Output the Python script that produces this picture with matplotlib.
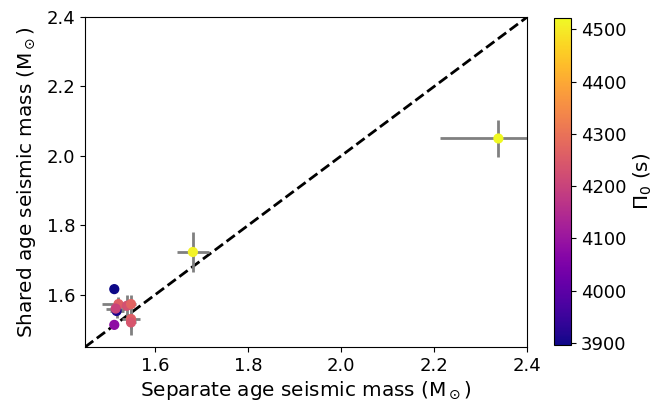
import matplotlib
matplotlib.use("Agg")
import matplotlib.pyplot as plt
import numpy as np

sep_mass = [2.338, 1.681, 1.512, 1.517, 1.512, 1.521, 1.539, 1.548, 1.548, 1.548, 1.515]
shared_mass = [2.050, 1.723, 1.616, 1.553, 1.513, 1.573, 1.568, 1.573, 1.530, 1.520, 1.560]
sep_err = [0.126, 0.035, 0.008, 0.015, 0.008, 0.035, 0.015, 0.010, 0.020, 0.010, 0.020]
shared_err = [0.054, 0.058, 0.012, 0.020, 0.010, 0.020, 0.030, 0.025, 0.030, 0.035, 0.010]
pi0 = [4521, 4510, 3896, 3910, 4080, 4260, 4230, 4270, 4260, 4240, 4200]

fig = plt.figure(figsize=(6.64, 4.05), dpi=100)
ax = fig.add_axes([0.128, 0.143, 0.666, 0.815])
cax = fig.add_axes([0.834, 0.148, 0.026, 0.807])

lo, hi = 1.449, 2.4
ax.plot([lo, hi], [lo, hi], 'k--', lw=2, zorder=1)
ax.errorbar(sep_mass, shared_mass, xerr=sep_err, yerr=shared_err, fmt='none',
            ecolor='gray', elinewidth=2, capsize=0, zorder=2)
sc = ax.scatter(sep_mass, shared_mass, c=pi0, cmap='plasma', s=40, zorder=3,
                vmin=min(pi0), vmax=max(pi0))
ax.set_xlim(lo, hi)
ax.set_ylim(lo, hi)
ax.set_xticks([1.6, 1.8, 2.0, 2.2, 2.4])
ax.set_yticks([1.6, 1.8, 2.0, 2.2, 2.4])
ax.tick_params(labelsize=13)
ax.set_xlabel(r'Separate age seismic mass (M$_\odot$)', fontsize=14.4, labelpad=3)
ax.set_ylabel(r'Shared age seismic mass (M$_\odot$)', fontsize=14.4, labelpad=6)

cb = fig.colorbar(sc, cax=cax)
cb.set_ticks([3900, 4000, 4100, 4200, 4300, 4400, 4500])
cb.ax.tick_params(labelsize=13)
cb.set_label(r'$\Pi_0$ (s)', fontsize=14.4)

fig.savefig('out.png', dpi=100)
